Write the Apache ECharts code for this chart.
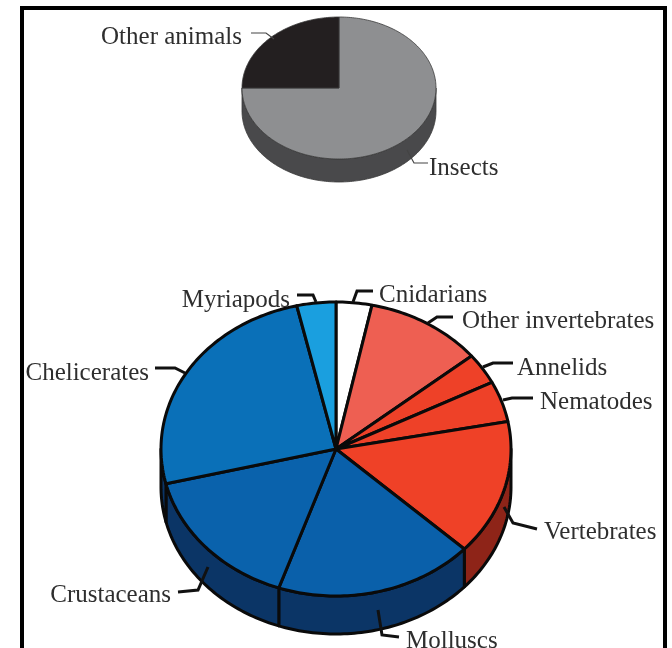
<!DOCTYPE html>
<html><head><meta charset="utf-8">
<style>html,body{margin:0;padding:0;background:#fff}#c{width:672px;height:648px}</style>
<script src="https://cdn.jsdelivr.net/npm/echarts@6/dist/echarts.min.js"></script>
</head><body><div id="c"></div>
<script>
// --- data ---
const animalCategories = ['Insects', 'Other animals'];
const animalValues = [75, 25];
const nonInsectCategories = ['Cnidarians', 'Other invertebrates', 'Annelids', 'Nematodes', 'Vertebrates', 'Molluscs', 'Crustaceans', 'Chelicerates', 'Myriapods'];
const nonInsectValues = [3.3, 10.8, 3.4, 4.5, 14.9, 18.4, 15.9, 25.2, 3.6];

// --- styles ---
const animalFace = ['#8e8f91', '#231f20'];
const animalSide = ['#49494b', '#231f20'];
const nonInsectFace = ['#ffffff', '#ee5f52', '#ee4128', '#ee4128', '#ef4127', '#0a60aa', '#0a62ac', '#0a70b8', '#1a9fdf'];
const nonInsectSide = ['#fff', '#8e2418', '#8e2418', '#8e2418', '#8e2418', '#0b3566', '#0b3566', '#0b3566', '#0b3566'];

// --- layout ---
const animalPie = {cx: 339, cy: 88, rx: 97, ry: 71, depth: 23, stroke: '#3a3a3a', width: 0.8};
const nonInsectPie = {cx: 336, cy: 449, rx: 175, ry: 147, depth: 38, stroke: '#0a0a0a', width: 3};
const animalLabels = [[429, 168, 'left'], [242, 37, 'right']];
const animalLeaders = [[[407,150],[414,163],[428,163]], [[251,33],[266,33],[274,39]]];
const nonInsectLabels = [[379,295,'left'],[462,321,'left'],[517,368,'left'],[540,402,'left'],[544,532,'left'],[406,641,'left'],[171,595,'right'],[149,373,'right'],[290,300,'right']];
const nonInsectLeaders = [
  [[353,302],[357,291],[373,291]], [[428,323],[437,317],[453,317]], [[483,367],[493,363],[513,363]],
  [[503,400],[512,398],[533,398]], [[504,507],[513,523],[537,529]], [[378,610],[382,635],[399,637]],
  [[208,567],[198,590],[178,592]], [[155,368],[175,368],[185,373]], [[297,295],[313,295],[316,302]]
];

function arc(p, a0, a1, dy) {
  const pts = [], n = Math.max(2, Math.ceil((a1 - a0) / 0.02));
  for (let i = 0; i <= n; i++) {
    const t = a0 + (a1 - a0) * i / n;
    pts.push([p.cx + p.rx * Math.sin(t), p.cy - p.ry * Math.cos(t) + (dy || 0)]);
  }
  return pts;
}
function pieSeries(name, cats, vals, pie, face, side, labels, leaders, leaderW) {
  const total = vals.reduce((a, b) => a + b, 0);
  const starts = []; let acc = 0;
  vals.forEach(v => { starts.push(acc); acc += v; });
  const toA = v => v / total * Math.PI * 2;
  return {
    type: 'custom', name, coordinateSystem: 'none', silent: true, animation: false,
    data: vals.map((v, i) => ({name: cats[i], value: v})),
    renderItem(params) {
      const i = params.dataIndex;
      const a0 = toA(starts[i]), a1 = toA(starts[i] + vals[i]);
      const children = [];
      const s0 = Math.max(a0, Math.PI / 2), s1 = Math.min(a1, Math.PI * 1.5);
      if (s1 > s0) {
        children.push({type: 'polygon', z2: 1,
          shape: {points: arc(pie, s0, s1, 0).concat(arc(pie, s0, s1, pie.depth).reverse())},
          style: {fill: side[i], stroke: pie.stroke, lineWidth: pie.width, lineJoin: 'round'}});
      }
      children.push({type: 'polygon', z2: 2,
        shape: {points: [[pie.cx, pie.cy]].concat(arc(pie, a0, a1, 0))},
        style: {fill: face[i], stroke: pie.stroke, lineWidth: pie.width, lineJoin: 'round'}});
      children.push({type: 'polyline', z2: 3, shape: {points: leaders[i]},
        style: {fill: null, stroke: leaderW > 2 ? '#111' : '#444', lineWidth: leaderW}});
      children.push({type: 'text', z2: 4, style: {
        x: labels[i][0], y: labels[i][1], text: cats[i], align: labels[i][2], verticalAlign: 'middle',
        font: '25px "Liberation Serif"', fill: '#2e2e2e'}});
      return {type: 'group', children};
    }
  };
}
const chart = echarts.init(document.getElementById('c'), null, {renderer: 'canvas'});
chart.setOption({
  animation: false,
  backgroundColor: '#fff',
  graphic: [{type: 'rect', shape: {x: 22, y: 8, width: 643, height: 700},
    style: {fill: null, stroke: '#000', lineWidth: 4}, silent: true, z: -1}],
  series: [
    pieSeries('Animals', animalCategories, animalValues, animalPie, animalFace, animalSide, animalLabels, animalLeaders, 1.2),
    pieSeries('Non-insect animals', nonInsectCategories, nonInsectValues, nonInsectPie, nonInsectFace, nonInsectSide, nonInsectLabels, nonInsectLeaders, 3)
  ]
});
</script></body></html>
